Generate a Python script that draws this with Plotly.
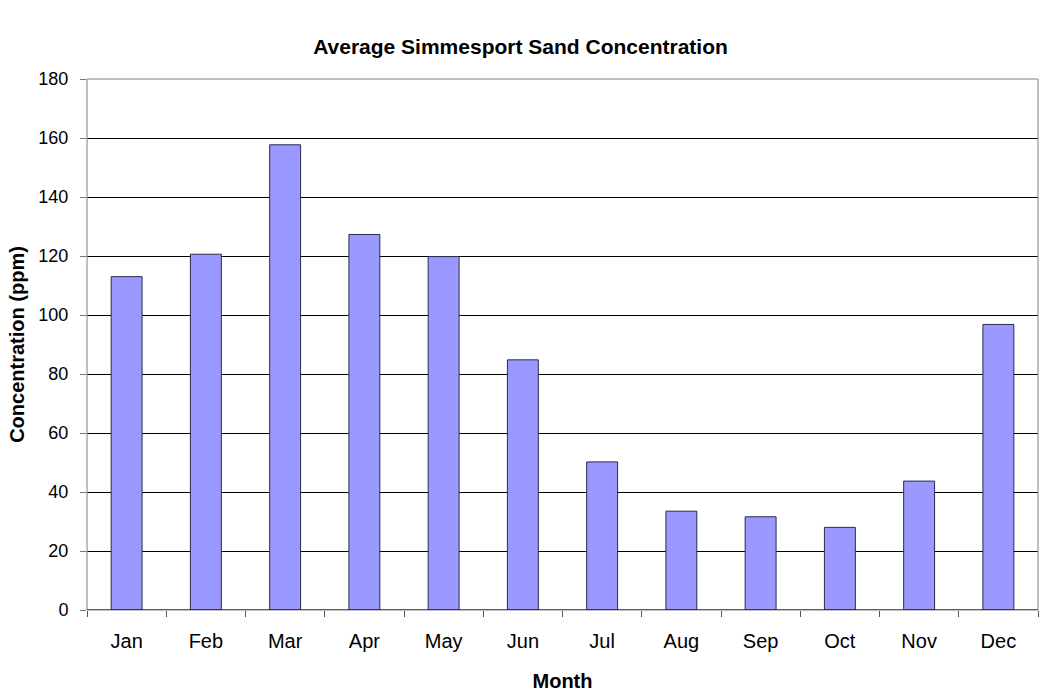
import plotly.graph_objects as go

# Monthly average sand concentration at Simmesport (ppm)
months = ["Jan", "Feb", "Mar", "Apr", "May", "Jun",
          "Jul", "Aug", "Sep", "Oct", "Nov", "Dec"]
concentration = [113.0, 120.6, 157.7, 127.3, 119.8, 84.8,
                 50.2, 33.5, 31.6, 28.0, 43.7, 96.8]
y_ticks = [0, 20, 40, 60, 80, 100, 120, 140, 160, 180]

FONT = "Liberation Sans, Arial, sans-serif"

fig = go.Figure(
    go.Bar(
        x=months,
        y=concentration,
        marker=dict(color="#9999FF", line=dict(color="#2a2a4a", width=1)),
        hoverinfo="x+y",
    )
)

fig.update_layout(
    width=1041,
    height=694,
    margin=dict(l=87, r=3, t=79, b=84),
    paper_bgcolor="white",
    plot_bgcolor="white",
    bargap=0.61,
    showlegend=False,
    font=dict(family=FONT, color="black"),
    title=dict(
        text="<b>Average Simmesport Sand Concentration</b>",
        x=0.5, xanchor="center",
        y=1 - 47 / 694, yanchor="middle", yref="container",
        font=dict(family=FONT, size=21, color="black"),
    ),
    xaxis=dict(
        showgrid=False,
        ticks="outside",
        tickson="boundaries",
        ticklen=6,
        tickcolor="#555555",
        tickfont=dict(size=20),
        ticklabelstandoff=17,
        title=dict(text="<b>Month</b>", font=dict(size=20), standoff=22),
    ),
    yaxis=dict(
        range=[0, 180],
        tickvals=y_ticks,
        showgrid=True,
        gridcolor="black",
        gridwidth=1,
        zeroline=False,
        ticks="outside",
        ticklen=6,
        tickcolor="#777777",
        tickfont=dict(size=18),
        ticklabelstandoff=8,
        title=dict(text="<b>Concentration (ppm)</b>", font=dict(size=20), standoff=8),
    ),
)

# grey plot-area border and black baseline
fig.add_shape(type="rect", xref="paper", yref="paper", x0=0, x1=1, y0=0, y1=1,
              line=dict(color="#808080", width=1), layer="above")
fig.add_shape(type="line", xref="paper", yref="y", x0=0, x1=1, y0=0, y1=0,
              line=dict(color="black", width=1), layer="above")

fig.write_html("out.html")
